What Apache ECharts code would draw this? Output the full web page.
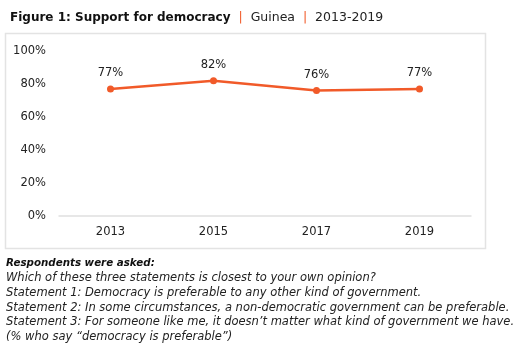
<!DOCTYPE html>
<html><head><meta charset="utf-8">
<script src="https://cdn.jsdelivr.net/npm/echarts@6/dist/echarts.min.js"></script>
<style>html,body{margin:0;padding:0;background:#fff}#c{width:529px;height:348px}</style>
</head><body><div id="c"></div>
<script>
const years = ['2013','2015','2017','2019'];
const support = [77, 82, 76, 77];
const yTicks = [0, 20, 40, 60, 80, 100];
const noteLines = [
  'Which of these three statements is closest to your own opinion?',
  'Statement 1: Democracy is preferable to any other kind of government.',
  'Statement 2: In some circumstances, a non-democratic government can be preferable.',
  'Statement 3: For someone like me, it doesn\u2019t matter what kind of government we have.',
  '(% who say \u201cdemocracy is preferable\u201d)'
];
const FONT = '"DejaVu Sans", sans-serif';
const ORANGE = '#F15A29';
const chart = echarts.init(document.getElementById('c'));
const graphics = [
  {type:'rect', shape:{x:5.5,y:33.5,width:480,height:215}, style:{fill:'none', stroke:'#e3e3e3', lineWidth:1.5}, z:-1},
  {type:'text', x:6, y:263, style:{text:'Respondents were asked:', font:'italic bold 10.3px '+FONT, fill:'#111', verticalAlign:'middle'}}
];
noteLines.forEach((t,i)=>{
  graphics.push({type:'text', x:6, y:278+i*14.8, style:{text:t, font:'italic 11.5px '+FONT, fill:'#222', verticalAlign:'middle'}});
});
chart.setOption({
  animation:false,
  title:{
    text:'{b|Figure 1: Support for democracy}{o|  |  }{n|Guinea}{o|  |  }{n|2013-2019}',
    left:5, top:6,
    textStyle:{rich:{
      b:{fontFamily:FONT, fontWeight:'bold', fontSize:12, color:'#111'},
      o:{fontFamily:FONT, fontWeight:'normal', fontSize:12.5, color:ORANGE},
      n:{fontFamily:FONT, fontWeight:'normal', fontSize:12.5, color:'#222'}
    }}
  },
  grid:{left:59, right:58, top:51, bottom:132},
  xAxis:{
    type:'category', data:years, boundaryGap:true,
    axisLine:{lineStyle:{color:'#e0e0e0', width:1.5}},
    axisTick:{show:false},
    axisLabel:{fontFamily:FONT, fontSize:11.5, color:'#222', margin:10}
  },
  yAxis:{
    type:'value', min:yTicks[0], max:yTicks[yTicks.length-1], interval:20,
    splitLine:{show:false}, axisLine:{show:false}, axisTick:{show:false},
    axisLabel:{formatter:'{value}%', fontFamily:FONT, fontSize:11.5, color:'#222', margin:13}
  },
  series:[{
    type:'line', data:support, color:ORANGE,
    lineStyle:{width:2.5, color:ORANGE}, symbol:'circle', symbolSize:7,
    itemStyle:{color:ORANGE},
    label:{show:true, position:'top', distance:6, formatter:'{c}%', fontFamily:FONT, fontSize:11.5, color:'#222'}
  }],
  graphic:graphics
});
</script></body></html>
